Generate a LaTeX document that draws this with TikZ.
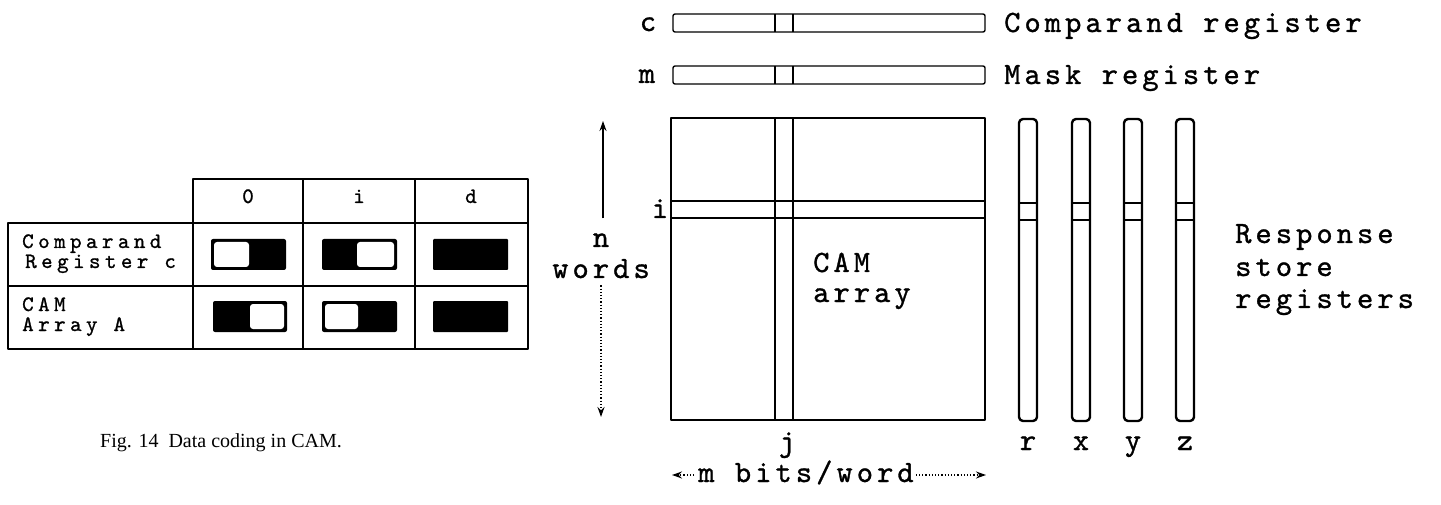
\documentclass[tikz,border=0pt]{standalone}
\usepackage{fontspec}
\setmainfont{Liberation Serif}
\newfontfamily\tw[LetterSpace=13,FakeBold=1]{lmmono10-regular.otf}
\newfontfamily\tws[LetterSpace=20,FakeBold=1]{lmmono10-regular.otf}
\usetikzlibrary{arrows.meta}
\begin{document}
\begin{tikzpicture}[x=1pt,y=-1pt,line join=round,
  tx/.style={font=\tw\fontsize{31}{35}\selectfont, inner sep=0pt},
  ts/.style={font=\tws\fontsize{22}{24}\selectfont, inner sep=0pt},
  captxt/.style={font=\fontsize{20}{24}\selectfont, inner sep=0pt},
  reg/.style={draw, line width=1.4pt, rounded corners=2pt},
  resp/.style={draw, line width=2.4pt, rounded corners=4pt},
  cell/.style={draw, line width=1.3pt},
  tip/.style={-{Stealth[length=10pt,width=7pt]}, line width=1.2pt}]
\useasboundingbox (0,0) rectangle (1441,505);

% ---------------- left table ----------------
\draw[cell] (193,179) rectangle (528,223);
\draw[cell] (8,223) rectangle (528,349);
\draw[cell] (8,286) -- (528,286);
\draw[cell] (193,223) -- (193,349);
\draw[cell] (303,179) -- (303,349);
\draw[cell] (415,179) -- (415,349);
\node[ts, anchor=base] (h0) at (248,203) {0};
\node[ts, anchor=base] (h1) at (359,203) {i};
\node[ts, anchor=base] (h2) at (471,203) {d};
\node[ts, anchor=base west] (l1) at (22,248) {Comparand};
\node[ts, anchor=base west] (l2) at (25,268) {Register c};
\node[ts, anchor=base west] (l3) at (22,311) {CAM};
\node[ts, anchor=base west] (l4) at (22,331) {Array A};
% cells row 1
\fill[rounded corners=2pt] (211,239) rectangle (286,270);
\fill[white, rounded corners=3pt] (214,242) rectangle (249,267);
\fill[rounded corners=2pt] (322,239) rectangle (397,270);
\fill[white, rounded corners=3pt] (357,242) rectangle (394,267);
\fill[rounded corners=1pt] (433,239) rectangle (508,270);
% cells row 2
\fill[rounded corners=2pt] (213,301) rectangle (287,332);
\fill[white, rounded corners=3pt] (250,304) rectangle (284,329);
\fill[rounded corners=2pt] (322,301) rectangle (397,332);
\fill[white, rounded corners=3pt] (325,304) rectangle (358,329);
\fill[rounded corners=1pt] (433,301) rectangle (508,332);
\node[captxt, anchor=base west] (fig) at (100,447) {Fig. 14\ \ Data coding in CAM.};

% ---------------- registers c, m ----------------
\draw[reg] (673,14) rectangle (985,32);
\draw[line width=1.3pt] (775,14) -- (775,32) (793,14) -- (793,32);
\draw[reg] (673,66) rectangle (985,84);
\draw[line width=1.3pt] (775,66) -- (775,84) (793,66) -- (793,84);
\node[tx, anchor=base] (lc) at (648,31) {c};
\node[tx, anchor=base] (lm) at (647,83) {m};
\node[tx, anchor=base west] (cr) at (1004,32) {Comparand register};
\node[tx, anchor=base west] (mr) at (1004,84) {Mask register};

% ---------------- CAM array ----------------
\draw[line width=1.3pt] (671,118) rectangle (985,420);
\draw[line width=1.3pt] (775,118) -- (775,420) (793,118) -- (793,420);
\draw[line width=1.3pt] (671,201) -- (985,201) (671,218) -- (985,218);
\node[tx, anchor=base] (li) at (660,218) {i};
\node[tx, anchor=base west] (cam1) at (813,272) {CAM};
\node[tx, anchor=base west] (cam2) at (813,302) {array};
\node[tx, anchor=base] (lj) at (787,451) {j};

% n words
\node[tx, anchor=base] (ln) at (601,247) {n};
\node[tx, anchor=base] (lw) at (601,278) {words};
\coordinate (ntop) at (603,121);
\coordinate (nbot) at (601,417);
\draw[tip] ([yshift=15pt]ln.north -| ntop) -- (ntop);
\draw[tip, dotted, line width=2pt] ([yshift=-7pt]lw.south -| nbot) -- (nbot);

% m bits/word
\node[tx, anchor=base] (mb) at (806,482) {m bits/word};
\coordinate (mbl) at (672,475);
\coordinate (mbr) at (986,475);
\draw[tip, dotted, line width=1.6pt] ([xshift=-4pt]mb.west |- mbl) -- (mbl);
\draw[tip, dotted, line width=1.6pt] ([xshift=2pt]mb.east |- mbr) -- (mbr);

% ---------------- response store registers ----------------
\foreach \xa/\lab/\nm in {1019/r/rr,1072/x/rx,1124/y/ry,1176/z/rz}{
  \draw[resp] (\xa,119) rectangle ({\xa+18},421);
  \draw[line width=2.2pt] (\xa,203) -- ({\xa+18},203) (\xa,220) -- ({\xa+18},220);
  \node[tx, anchor=base] (\nm) at ({\xa+9},450) {\lab};
}
\node[tx, anchor=base west] (rs1) at (1235,243) {Response};
\node[tx, anchor=base west] (rs2) at (1235,276) {store};
\node[tx, anchor=base west] (rs3) at (1235,308) {registers};
\end{tikzpicture}
\end{document}
